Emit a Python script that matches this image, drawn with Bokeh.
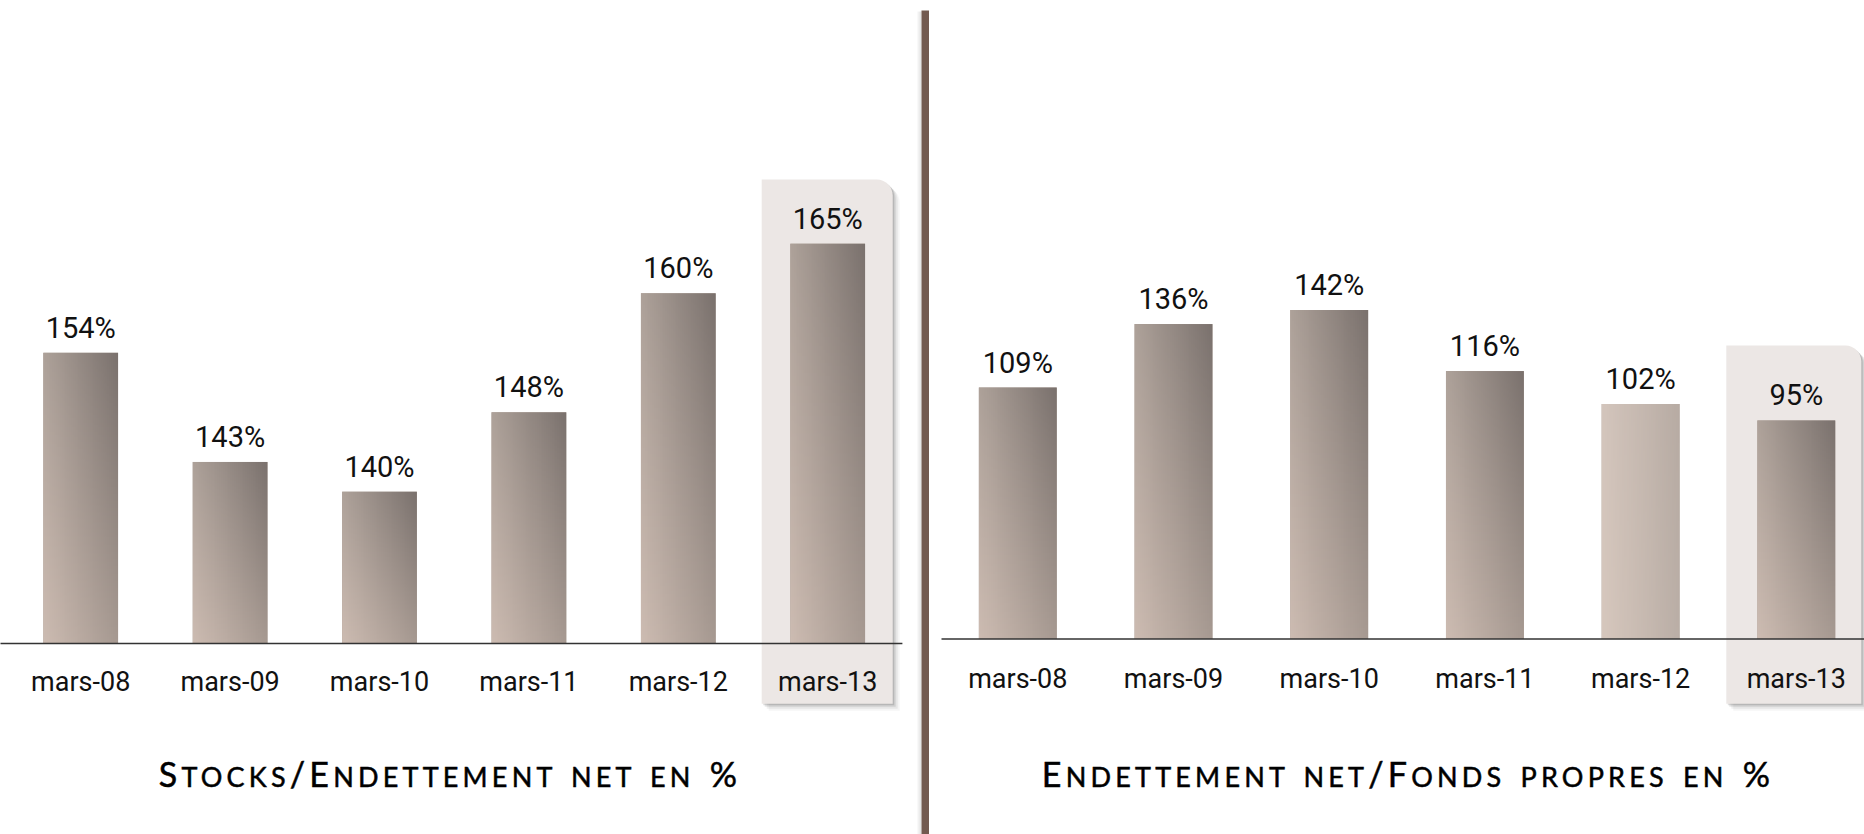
import numpy as np
from bokeh.plotting import figure
from bokeh.models import Range1d, BoxAnnotation, Div, ColumnDataSource
from bokeh.layouts import row, column
from bokeh.embed import file_html
from bokeh.resources import INLINE
from bokeh.core.properties import value

# ---------------- data ----------------
categories = ["mars-08", "mars-09", "mars-10", "mars-11", "mars-12", "mars-13"]
stocks_vs_net_debt = [154, 143, 140, 148, 160, 165]          # left chart, %
net_debt_vs_equity = [109, 136, 142, 116, 102, 95]           # right chart, %
left_title = "Stocks/Endettement net en %"
right_title = "Endettement net/Fonds propres en %"
highlight_category = "mars-13"
light_bars_right = ["mars-12"]

# ---------------- styles ----------------
LABEL_FONT = "Roboto"
TITLE_FONT = "Lato"
# gradient corner colours: bottom-left, bottom-right, top-left, top-right
DARK = ((204, 187, 177), (166, 153, 145), (173, 161, 153), (122, 113, 109))
LIGHT = ((214, 199, 189), (186, 174, 166), (211, 197, 188), (183, 171, 163))
BOX_COLOR = "#ece7e5"
DIVIDER_COLOR = "#735a50"


def gradient_image(corners, w=40, h=120):
    bl, br, tl, tr = [np.array(c, dtype=float) for c in corners]
    u = np.linspace(0, 1, w)[None, :, None]
    v = np.linspace(0, 1, h)[:, None, None]
    col = (1 - u) * (1 - v) * bl + u * (1 - v) * br + (1 - u) * v * tl + u * v * tr
    img = np.empty((h, w), dtype=np.uint32)
    view = img.view(dtype=np.uint8).reshape((h, w, 4))
    view[..., :3] = np.clip(col.round(), 0, 255).astype(np.uint8)
    view[..., 3] = 255
    return img


def build_chart(cats, vals, width, height, center0, step, base_px, base_val, ppu,
                box_top_px, box_bottom_px, box_half_px, box_shift_px, line_x, label_dy,
                light=()):
    x_range = Range1d(-center0 / step, (width - center0) / step)
    y_range = Range1d(base_val - (height - base_px) / ppu, base_val + base_px / ppu)
    p = figure(width=width, height=height, x_range=x_range, y_range=y_range,
               toolbar_location=None, output_backend="svg", min_border=0,
               x_axis_location=None, y_axis_location=None, outline_line_color=None,
               background_fill_color="white", border_fill_color="white")
    p.grid.visible = False

    n = len(cats)
    xs = list(range(n))
    hi = cats.index(highlight_category)

    def to_val(px):
        return base_val + (base_px - px) / ppu

    top = to_val(box_top_px)
    bottom = to_val(box_bottom_px)
    half = box_half_px / step
    cx = hi + box_shift_px / step
    for off, alpha in [(7, 0.04), (5, 0.06), (3, 0.09), (1.5, 0.12)]:
        p.add_layout(BoxAnnotation(left=cx - half + off / step, right=cx + half + off / step,
                                   top=top - off / ppu, bottom=bottom - off / ppu,
                                   fill_color="black", fill_alpha=alpha, line_color=None,
                                   border_radius=(0, 16, 0, 0), level="underlay"))
    p.add_layout(BoxAnnotation(left=cx - half, right=cx + half, top=top, bottom=bottom,
                               fill_color=BOX_COLOR, fill_alpha=1.0, line_color=None,
                               border_radius=(0, 16, 0, 0), level="underlay"))

    bar_w = 0.5
    src = ColumnDataSource(dict(x=xs, top=vals, cat=cats, label=[f"{v}%" for v in vals]))
    p.vbar(x="x", top="top", bottom=base_val, width=bar_w, source=src,
           fill_color="#a89a91", line_color=None)
    imgs = [gradient_image(LIGHT if c in light else DARK) for c in cats]
    p.image_rgba(image=imgs, x=[x - bar_w / 2 for x in xs], y=[base_val] * n,
                 dw=[bar_w] * n, dh=[v - base_val for v in vals])

    p.line(x=line_x, y=[base_val, base_val], line_color="#333333", line_width=1.3)

    p.text(x="x", y="top", text="label", source=src, text_font=value(LABEL_FONT),
           text_font_size="29px", text_align="center", text_baseline="alphabetic",
           y_offset=-25, text_color="#111111")
    p.text(x="x", y=base_val, text="cat", source=src, text_font=value(LABEL_FONT),
           text_font_size="27px", text_align="center", text_baseline="alphabetic",
           y_offset=label_dy, text_color="#111111")
    return p


def small_caps_html(text, width, pad_left, pad_right, big=34, small=27):
    parts = []
    cur_kind, cur = None, ""
    for ch in text:
        kind = "s" if (ch.islower() or ch == " ") else "b"
        if kind != cur_kind and cur:
            parts.append((cur_kind, cur))
            cur = ""
        cur_kind = kind
        cur += ch
    if cur:
        parts.append((cur_kind, cur))
    spans = ""
    for kind, t in parts:
        if kind == "b":
            spans += f'<span style="font-size:{big}px">{t}</span>'
        else:
            spans += f'<span style="font-size:{small}px;text-transform:uppercase">{t}</span>'
    return (f'<div style="box-sizing:border-box;width:{width}px;padding-left:{pad_left}px;'
            f'padding-right:{pad_right}px;padding-top:17px;text-align:center;'
            f'font-family:{TITLE_FONT}, sans-serif;letter-spacing:4.2px;word-spacing:4px;'
            f'-webkit-text-stroke:0.5px #000;'
            f'color:#000;white-space:nowrap;line-height:1">{spans}</div>')


PAGE_H = 834
LEFT_W, RIGHT_W, DIV_W = 915, 935, 14
CHART_H = 740
TITLE_H = PAGE_H - CHART_H

left_fig = build_chart(categories, stocks_vs_net_debt, LEFT_W, CHART_H,
                       center0=80.2, step=149.4, base_px=643, base_val=124.7, ppu=9.92,
                       box_top_px=179, box_bottom_px=703.3, box_half_px=65.5, box_shift_px=-0.5,
                       line_x=[-0.55, 5.5], label_dy=38)
right_fig = build_chart(categories, net_debt_vs_equity, RIGHT_W, CHART_H,
                        center0=88.3, step=155.7, base_px=638.5, base_val=2, ppu=2.35,
                        box_top_px=345, box_bottom_px=703.3, box_half_px=67.5, box_shift_px=-2.5,
                        line_x=[-0.49, 5.6], label_dy=39.5, light=light_bars_right)

# vertical divider with a soft shadow on its left
divider = figure(width=DIV_W, height=PAGE_H, x_range=Range1d(0, DIV_W),
                 y_range=Range1d(0, PAGE_H), toolbar_location=None,
                 output_backend="svg", min_border=0, x_axis_location=None,
                 y_axis_location=None, outline_line_color=None)
divider.grid.visible = False
divider.quad(left=[2, 4], right=[6, 6], bottom=[0, 0], top=[PAGE_H - 11, PAGE_H - 11],
             fill_color="black", fill_alpha=0.05, line_color=None)
divider.quad(left=6, right=14, bottom=0, top=PAGE_H - 10, fill_color=DIVIDER_COLOR,
             line_color=None)

left_title_div = Div(text=small_caps_html(left_title, LEFT_W, 0, LEFT_W - 900),
                     width=LEFT_W, height=TITLE_H, margin=(0, 0, 0, 0))
right_title_div = Div(text=small_caps_html(right_title, RIGHT_W, 2 * 479 - RIGHT_W, 0),
                      width=RIGHT_W, height=TITLE_H, margin=(0, 0, 0, 0))

layout = row(column(left_fig, left_title_div, spacing=0), divider,
             column(right_fig, right_title_div, spacing=0), spacing=0)

open("out.html", "w").write(file_html(layout, INLINE))
